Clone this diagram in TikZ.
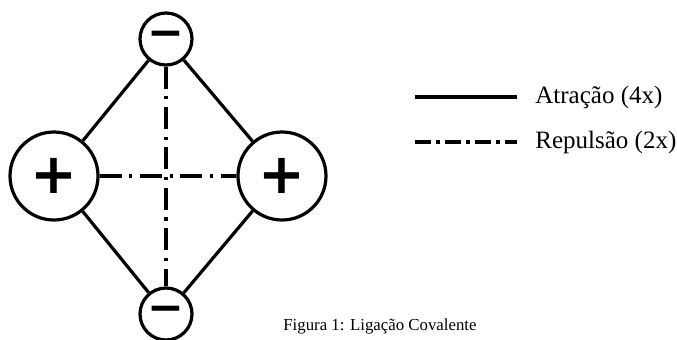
\documentclass[tikz,border=0pt]{standalone}
\usepackage{fontspec}
\setmainfont{Liberation Serif}
\newfontfamily\signfont{DejaVu Sans}
\usetikzlibrary{positioning}

\begin{document}
\begin{tikzpicture}[x=0.5pt, y=-0.5pt,
  charge/.style={circle, draw, line width=1.6pt, inner sep=0pt},
  attract/.style={line width=1.6pt},
  repel/.style={line width=1.6pt, dash pattern=on 11pt off 3.8pt on 1.6pt off 3.8pt},
  keyrepel/.style={line width=1.6pt, dash pattern=on 8pt off 2.7pt on 1.6pt off 2.7pt},
  legendtext/.style={anchor=west, inner sep=0pt, font=\fontsize{12.5}{14}\selectfont}]
\useasboundingbox (0,0) rectangle (677,339);

% Charges
\node[charge, minimum size=26pt] (top) at (166,39) {\signfont\bfseries\fontsize{22}{22}\selectfont −};
\node[charge, minimum size=26pt] (bottom) at (166,314) {\signfont\bfseries\fontsize{22}{22}\selectfont −};
\node[charge, minimum size=44pt] (left) at (54,176) {\signfont\bfseries\fontsize{28}{28}\selectfont +};
\node[charge, minimum size=44pt] (right) at (282,176) {\signfont\bfseries\fontsize{28}{28}\selectfont +};

% Bonds
\draw[attract] (top) -- (left);
\draw[attract] (top) -- (right);
\draw[attract] (bottom) -- (left);
\draw[attract] (bottom) -- (right);
\draw[repel] (top) -- (bottom);
\draw[repel] (left) -- (right);

% Legend
\coordinate (a1) at (415,97);
\coordinate (a2) at (517,97);
\coordinate (r1) at (415,142);
\coordinate (r2) at (517,142);
\draw[attract] (a1) -- (a2);
\draw[keyrepel] (r1) -- (r2);
\node[legendtext] (atr) at (535,97) {Atração (4x)};
\node[legendtext] (rep) at (535,142) {Repulsão (2x)};

% Caption
\node[anchor=west, inner sep=0pt, font=\fontsize{8.4}{10}\selectfont] (cap) at (283,326) {Figura 1: Ligação Covalente};
\end{tikzpicture}
\end{document}
